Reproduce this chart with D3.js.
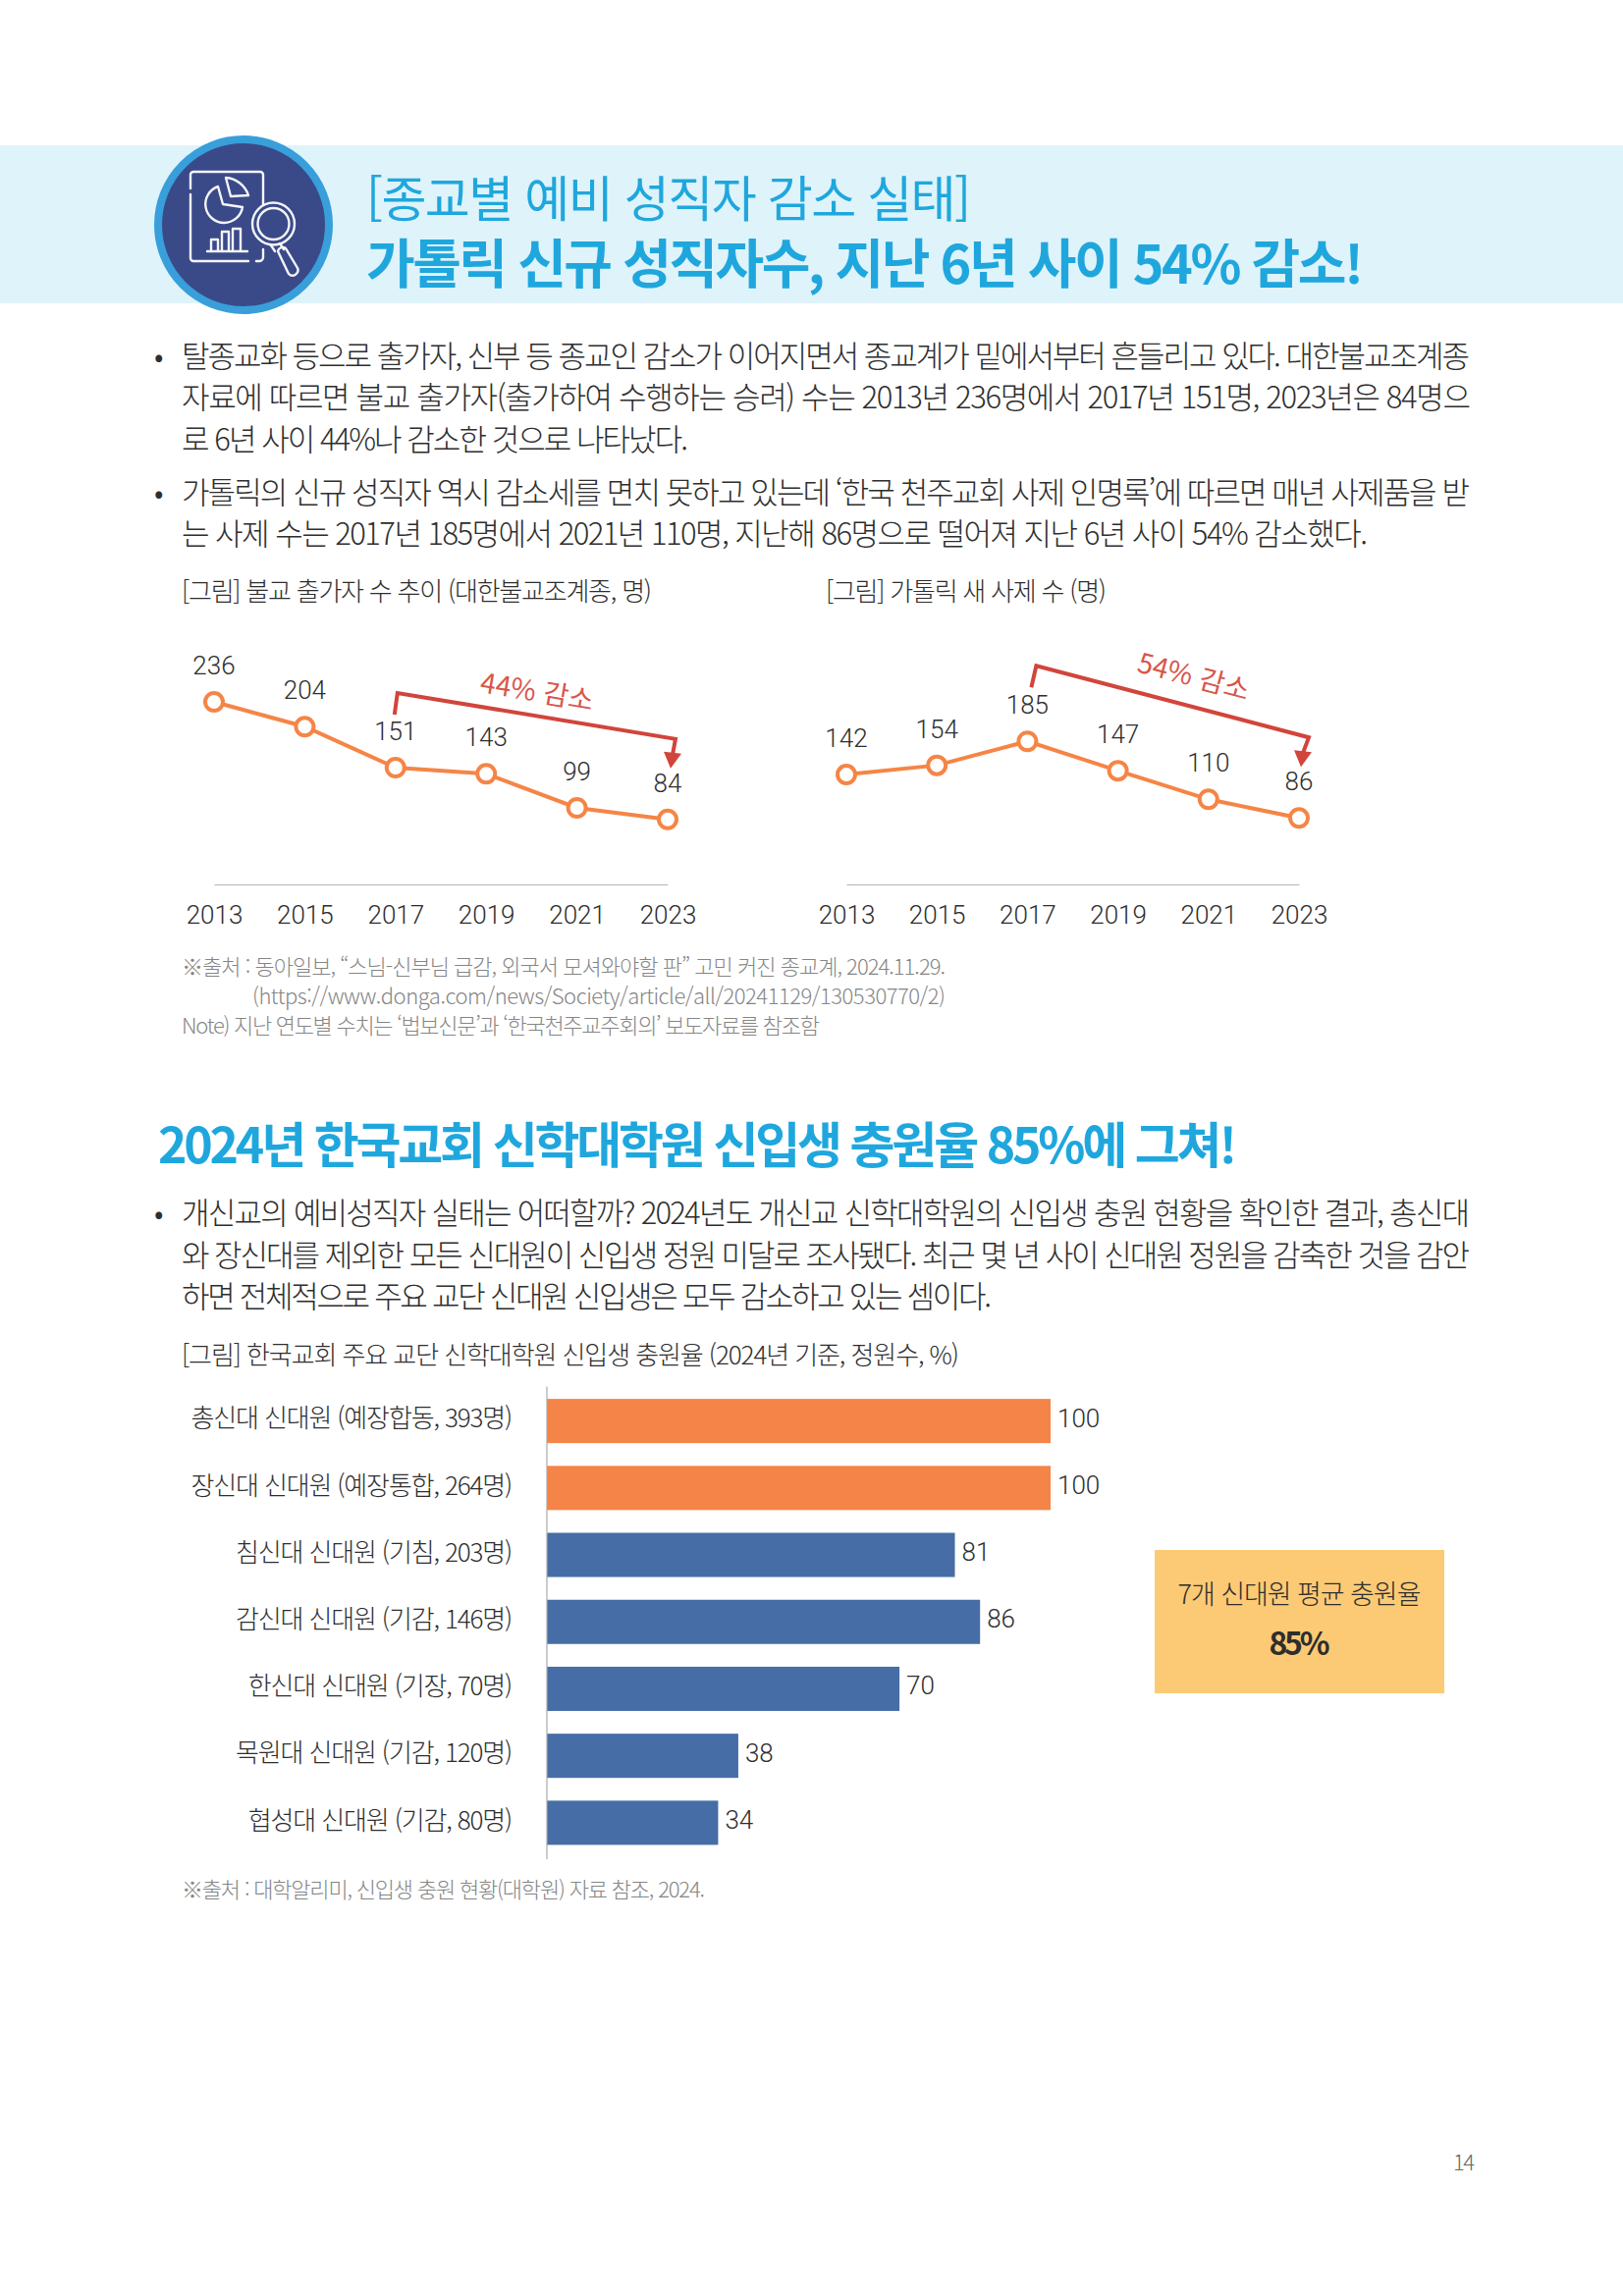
<!DOCTYPE html>
<html lang="ko">
<head>
<meta charset="utf-8">
<script src="https://cdn.jsdelivr.net/npm/d3@7"></script>
<style>
  body { margin: 0; background: #fff; }
  svg text { font-family: "Noto Sans CJK KR", "Noto Sans", sans-serif; font-weight: 300; fill: #2e2e2e; }
  .num text, text.num { font-family: "Roboto", "Noto Sans", sans-serif; font-weight: 300; }
  .source { fill: #858585; }
  .pageno { fill: #666; }
  .head { fill: #1fa7dd; }
  text.regular { font-weight: 400; }
  text.strong { font-weight: 700; }
</style>
</head>
<body>
<svg id="page" width="1653" height="2339"></svg>
<script>
// line charts
const years = [2013, 2015, 2017, 2019, 2021, 2023];
const monks = [236, 204, 151, 143, 99, 84];
const priests = [142, 154, 185, 147, 110, 86];

// bar chart
const schools = [
  "총신대 신대원 (예장합동, 393명)",
  "장신대 신대원 (예장통합, 264명)",
  "침신대 신대원 (기침, 203명)",
  "감신대 신대원 (기감, 146명)",
  "한신대 신대원 (기장, 70명)",
  "목원대 신대원 (기감, 120명)",
  "협성대 신대원 (기감, 80명)"
];
const fillRates = [100, 100, 81, 86, 70, 38, 34];

const svg = d3.select("#page");

const addText = (x, y, str, size, width, cls) => {
  const t = svg.append("text")
    .attr("x", x)
    .attr("y", y)
    .attr("font-size", size)
    .text(str);
  if (width) t.attr("textLength", width).attr("lengthAdjust", "spacing");
  if (cls) t.attr("class", cls);
  return t;
};

// title band + icon
const drawHeader = () => {
  svg.append("rect").attr("x", 0).attr("y", 148).attr("width", 1653).attr("height", 161).attr("fill", "#dff3fa");
  svg.append("circle").attr("cx", 248).attr("cy", 229).attr("r", 87).attr("fill", "#3a4a89")
    .attr("stroke", "#389fdb").attr("stroke-width", 8);

  const icon = svg.append("g").attr("fill", "none").attr("stroke", "#f4f4f8").attr("stroke-width", 2.4)
    .attr("stroke-linecap", "round").attr("stroke-linejoin", "round");
  icon.append("path").attr("d", "M194 192V178a3 3 0 0 1 3-3H265a3 3 0 0 1 3 3V209M194 198V263a3 3 0 0 0 3 3H253M261 266h3a4 4 0 0 0 4-4V254");
  icon.append("path").attr("d", "M222 190A19 19 0 1 0 247 211L227 208Z");
  icon.append("path").attr("d", "M230 181A26 26 0 0 1 253 199L235 200Z");
  icon.append("path").attr("d", "M211 256H252M215 255V244H222V255M226 255V236H233V255M237 255V233H245V255");
  icon.append("circle").attr("cx", 278.5).attr("cy", 228).attr("r", 21.5);
  icon.append("circle").attr("cx", 278.5).attr("cy", 228).attr("r", 16);
  icon.append("path").attr("d", "M276 250L280 256M285 248L289 254");
  icon.append("path").attr("d", "M283 256a5 5 0 0 1 8-3L303 273a5.500 5.500 0 0 1-9 6Z");

  addText(373, 221, "[종교별 예비 성직자 감소 실태]", 50, 616, "head regular");
  addText(373, 289, "가톨릭 신규 성직자수, 지난 6년 사이 54% 감소!", 54, 1016, "head strong");
};

const drawBody = () => {
  [374, 513, 1247].forEach(y => addText(157, y, "•", 30));
  addText(185, 374, "탈종교화 등으로 출가자, 신부 등 종교인 감소가 이어지면서 종교계가 밑에서부터 흔들리고 있다. 대한불교조계종", 31, 1312);
  addText(185, 416, "자료에 따르면 불교 출가자(출가하여 수행하는 승려) 수는 2013년 236명에서 2017년 151명, 2023년은 84명으", 31, 1313);
  addText(185, 459, "로 6년 사이 44%나 감소한 것으로 나타났다.", 31, 516);
  addText(185, 513, "가톨릭의 신규 성직자 역시 감소세를 면치 못하고 있는데 ‘한국 천주교회 사제 인명록’에 따르면 매년 사제품을 받", 31, 1312);
  addText(185, 555, "는 사제 수는 2017년 185명에서 2021년 110명, 지난해 86명으로 떨어져 지난 6년 사이 54% 감소했다.", 31, 1208);

  addText(185, 612, "[그림] 불교 출가자 수 추이 (대한불교조계종, 명)", 26, 479);
  addText(841, 612, "[그림] 가톨릭 새 사제 수 (명)", 26, 286);

  addText(185, 993, "※출처 : 동아일보, “스님-신부님 급감, 외국서 모셔와야할 판” 고민 커진 종교계, 2024.11.29.", 22, 778, "source");
  addText(257, 1023, "(https://www.donga.com/news/Society/article/all/20241129/130530770/2)", 22, 706, "source");
  addText(185, 1053, "Note) 지난 연도별 수치는 ‘법보신문’과 ‘한국천주교주회의’ 보도자료를 참조함", 22, 650, "source");

  addText(161, 1185, "2024년 한국교회 신학대학원 신입생 충원율 85%에 그쳐!", 50, 1099, "head strong");
  addText(185, 1247, "개신교의 예비성직자 실태는 어떠할까? 2024년도 개신교 신학대학원의 신입생 충원 현황을 확인한 결과, 총신대", 31, 1312);
  addText(185, 1290, "와 장신대를 제외한 모든 신대원이 신입생 정원 미달로 조사됐다. 최근 몇 년 사이 신대원 정원을 감축한 것을 감안", 31, 1312);
  addText(185, 1332, "하면 전체적으로 주요 교단 신대원 신입생은 모두 감소하고 있는 셈이다.", 31, 825);
  addText(185, 1390, "[그림] 한국교회 주요 교단 신학대학원 신입생 충원율 (2024년 기준, 정원수, %)", 26, 792);

  addText(185, 1933, "※출처 : 대학알리미, 신입생 충원 현황(대학원) 자료 참조, 2024.", 22, 533, "source");
  addText(1480, 2211, "14", 22, 22, "pageno");
};

// same vertical scale for both line charts
const yLine = d3.scaleLinear().domain([0, 236]).range([901, 715]);

const drawLineChart = (values, xRange, drop) => {
  const x = d3.scalePoint().domain(years).range(xRange);
  const g = svg.append("g");

  const xAxis = d3.axisBottom(x).tickSize(0).tickSizeOuter(0);
  const xAxisG = g.append("g").attr("class", "num")
    .attr("transform", `translate(0,${yLine(0)})`)
    .call(xAxis);
  xAxisG.select(".domain").attr("stroke", "#b5b5b5").attr("stroke-width", 1.2);
  xAxisG.selectAll("text").attr("y", 40).attr("dy", 0).attr("font-size", 26);

  const lineGenerator = d3.line()
    .x((d, i) => x(years[i]))
    .y(d => yLine(d));

  g.append("path")
    .attr("d", lineGenerator(values))
    .attr("fill", "none")
    .attr("stroke", "#f58546")
    .attr("stroke-width", 4);

  g.selectAll("circle").data(values).join("circle")
    .attr("cx", (d, i) => x(years[i]))
    .attr("cy", d => yLine(d))
    .attr("r", 9)
    .attr("fill", "#fff")
    .attr("stroke", "#f58546")
    .attr("stroke-width", 4);

  g.selectAll("text.num").data(values).join("text")
    .attr("class", "num")
    .attr("x", (d, i) => x(years[i]))
    .attr("y", d => yLine(d) - 28)
    .attr("text-anchor", "middle")
    .attr("font-size", 26)
    .text(d => d);

  // red bracket with the drop percentage
  const x0 = x(2017), y0 = yLine(values[2]);
  const x1 = x(2023), y1 = yLine(values[5]);
  const corner = [x0 + drop.cornerDx, y0 + drop.cornerDy];
  const end = [x1 + drop.endDx, y1 + drop.endDy];
  const tip = [x1 + drop.tipDx, y1 + drop.tipDy];
  g.append("path")
    .attr("d", d3.line()([[x0 + drop.startDx, y0 + drop.startDy], corner, end, [tip[0] + 2, tip[1] - 14]]))
    .attr("fill", "none")
    .attr("stroke", "#d1453b")
    .attr("stroke-width", 4);
  g.append("path")
    .attr("d", d3.line()([tip, [tip[0] - 7, tip[1] - 17], [tip[0] + 11, tip[1] - 15]]))
    .attr("fill", "#d1453b");

  const mid = [(corner[0] + end[0]) / 2 + drop.labelDx, (corner[1] + end[1]) / 2 + drop.labelDy];
  const angle = Math.atan2(end[1] - corner[1], end[0] - corner[0]) * 180 / Math.PI;
  g.append("text")
    .attr("class", "regular")
    .attr("transform", `translate(${mid[0]},${mid[1]}) rotate(${angle})`)
    .attr("text-anchor", "middle")
    .attr("font-size", 28)
    .style("fill", "#d9554a")
    .text(drop.label);
};

const drawBarChart = () => {
  const y = d3.scaleBand().domain(schools).range([1413.5, 1891]).paddingInner(0.34).paddingOuter(0.17);
  const x = d3.scaleLinear().domain([0, 100]).range([557, 1070]);
  const g = svg.append("g");

  g.selectAll("rect").data(fillRates).join("rect")
    .attr("x", x(0))
    .attr("y", (d, i) => y(schools[i]))
    .attr("width", d => x(d) - x(0))
    .attr("height", y.bandwidth())
    .attr("fill", d => d === 100 ? "#f58448" : "#466da6");

  const yAxis = d3.axisLeft(y).tickSize(0).tickPadding(36);
  const yAxisG = g.append("g").attr("transform", `translate(${x(0)},0)`).call(yAxis);
  yAxisG.select(".domain").remove();
  yAxisG.selectAll("text").attr("font-size", 26).attr("letter-spacing", -1.15).attr("dy", "0.26em");

  g.append("line")
    .attr("x1", x(0)).attr("x2", x(0))
    .attr("y1", y.range()[0] - 1).attr("y2", y.range()[1] + 3)
    .attr("stroke", "#aaa").attr("stroke-width", 1.2);

  g.selectAll("text.num").data(fillRates).join("text")
    .attr("class", "num")
    .attr("x", d => x(d) + 7)
    .attr("y", (d, i) => y(schools[i]) + y.bandwidth() / 2 + 6)
    .attr("font-size", 26)
    .text(d => d);

  // average box
  svg.append("rect").attr("x", 1176).attr("y", 1579).attr("width", 295).attr("height", 146).attr("fill", "#fcca74");
  addText(1323.5, 1634, "7개 신대원 평균 충원율", 27, 248).attr("text-anchor", "middle");
  addText(1323.5, 1686, "85%", 32, 62, "strong").attr("text-anchor", "middle");
};

drawHeader();
drawBody();
drawLineChart(monks, [218, 680], {
  label: "44% 감소",
  startDx: -1, startDy: -54, cornerDx: 2, cornerDy: -76,
  endDx: 8, endDy: -82, tipDx: 3, tipDy: -52,
  labelDx: -1, labelDy: -15
});
drawLineChart(priests, [862, 1323], {
  label: "54% 감소",
  startDx: 4, startDy: -55, cornerDx: 9, cornerDy: -77,
  endDx: 10, endDy: -82, tipDx: 2, tipDy: -52,
  labelDx: 19, labelDy: -16
});
drawBarChart();
</script>
</body>
</html>
